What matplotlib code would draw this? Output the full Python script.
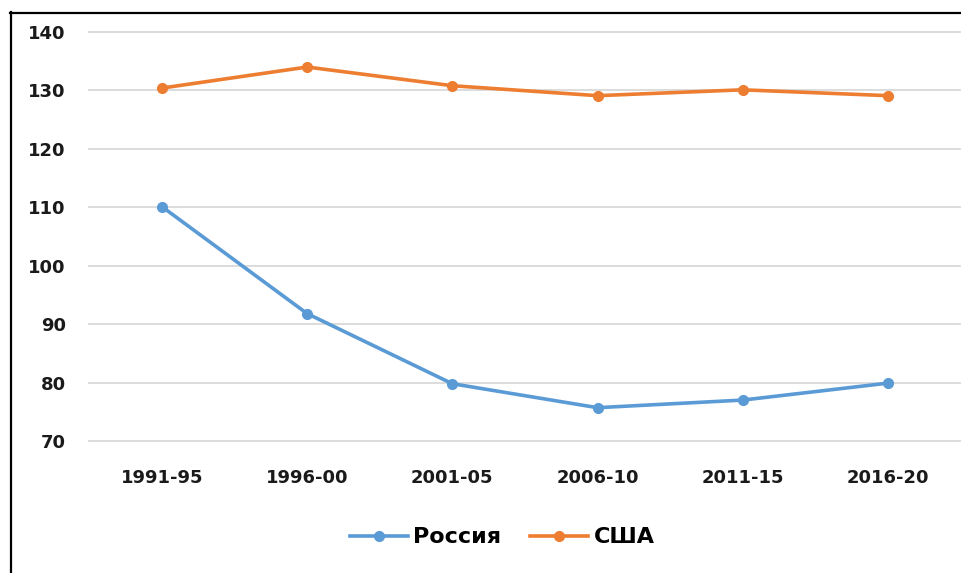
import matplotlib
matplotlib.use("Agg")
import matplotlib.pyplot as plt
from matplotlib.lines import Line2D

categories = ["1991-95", "1996-00", "2001-05", "2006-10", "2011-15", "2016-20"]
russia = [110.1, 91.8, 79.8, 75.7, 77.0, 79.9]
usa = [130.4, 134.0, 130.8, 129.1, 130.1, 129.1]
series_names = ["Россия", "США"]
yticks = [70, 80, 90, 100, 110, 120, 130, 140]

plt.rcParams['font.family'] = ['DejaVu Sans']

fig = plt.figure(figsize=(9.62, 5.73), dpi=100)
ax = fig.add_axes([0.0929, 0.2304, 0.9055, 0.7138])

x = list(range(len(categories)))
ax.plot(x, russia, color="#5B9BD5", lw=2.6, marker="o", ms=7, label=series_names[0], zorder=3)
ax.plot(x, usa, color="#ED7D31", lw=2.6, marker="o", ms=7, label=series_names[1], zorder=3)

ax.set_xlim(-0.5, len(categories) - 0.5)
ax.set_ylim(70, 140)
ax.set_yticks(yticks)
ax.set_xticks(x)
ax.set_xticklabels(categories)
ax.grid(axis="y", color="#D9D9D9", lw=1.3)
for gl in ax.get_ygridlines():
    gl.set_clip_on(False)
ax.set_axisbelow(True)
for s in ax.spines.values():
    s.set_visible(False)
ax.tick_params(axis="both", length=0, labelsize=13, colors="#1a1a1a")
ax.tick_params(axis="y", pad=17)
ax.tick_params(axis="x", pad=20)
for lbl in ax.get_xticklabels() + ax.get_yticklabels():
    lbl.set_fontweight("bold")

leg = fig.legend(loc="center", bbox_to_anchor=(0.522, 0.062), ncol=2, frameon=False,
                 handlelength=2.6, columnspacing=1.3, handletextpad=0.25,
                 prop={"weight": "bold", "size": 16})

# outer frame (left and top edges)
fig.add_artist(Line2D([10.5/962, 10.5/962], [0, 1 - 12/573], transform=fig.transFigure, color="black", lw=1.6))
fig.add_artist(Line2D([10/962, 1], [1 - 12.5/573, 1 - 12.5/573], transform=fig.transFigure, color="black", lw=1.6))

fig.savefig("out.png", dpi=100)
